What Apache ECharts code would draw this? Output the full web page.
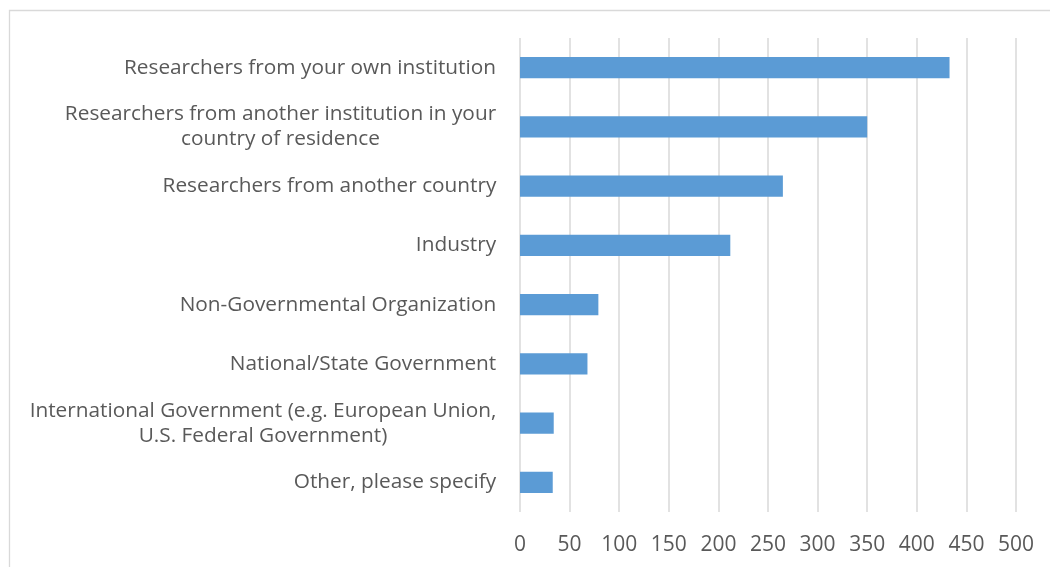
<!DOCTYPE html>
<html>
<head>
<meta charset="utf-8">
<script src="https://cdn.jsdelivr.net/npm/echarts@6/dist/echarts.min.js"></script>
<style>
html,body{margin:0;padding:0;background:#fff;}
#chart{width:1050px;height:567px;}
</style>
</head>
<body>
<div id="chart"></div>
<script>
const categories = [
  "Researchers from your own institution",
  "Researchers from another institution in your\ncountry of residence",
  "Researchers from another country",
  "Industry",
  "Non-Governmental Organization",
  "National/State Government",
  "International Government (e.g. European Union,\nU.S. Federal Government)",
  "Other, please specify"
];
const values = [433, 350, 265, 212, 79, 68, 34, 33];
const xTicks = [0, 50, 100, 150, 200, 250, 300, 350, 400, 450, 500];

const FONT = '"Open Sans", sans-serif';
const FS = 20.8;
const TFS = 21;
const ctx = document.createElement('canvas').getContext('2d');
ctx.font = FS + 'px "Open Sans"';
const rich = {};
categories.forEach((c, i) => {
  const lines = c.split('\n');
  const w = Math.max(...lines.map(l => ctx.measureText(l).width));
  rich['c' + i] = { width: Math.ceil(w) + 1, align: 'center', fontFamily: FONT, fontSize: FS, color: '#595959', lineHeight: 25 };
});

const chart = echarts.init(document.getElementById('chart'));
chart.setOption({
  animation: false,
  backgroundColor: '#fff',
  graphic: [{
    type: 'rect', left: 7, top: 8, z: -1,
    shape: { width: 1100, height: 600 },
    style: { fill: 'none', stroke: '#d9d9d9', lineWidth: 1.3 }
  }],
  grid: { left: 520, right: 34, top: 38, bottom: 55 },
  xAxis: {
    type: 'value', min: xTicks[0], max: xTicks[xTicks.length - 1], interval: 50,
    axisLine: { show: false }, axisTick: { show: false },
    splitLine: { show: true, lineStyle: { color: '#d9d9d9', width: 1.5 } },
    axisLabel: { color: '#595959', fontFamily: FONT, fontSize: TFS, margin: 23 }
  },
  yAxis: {
    type: 'category', data: categories, inverse: true,
    axisLine: { show: false }, axisTick: { show: false },
    axisLabel: {
      margin: 23, align: 'right',
      formatter: (v, i) => v.split('\n').map(l => '{c' + i + '|' + l + '}').join('\n'),
      rich: rich
    }
  },
  series: [{
    type: 'bar', data: values, barWidth: '36%',
    itemStyle: { color: '#5b9bd5' }
  }]
});
</script>
</body>
</html>
